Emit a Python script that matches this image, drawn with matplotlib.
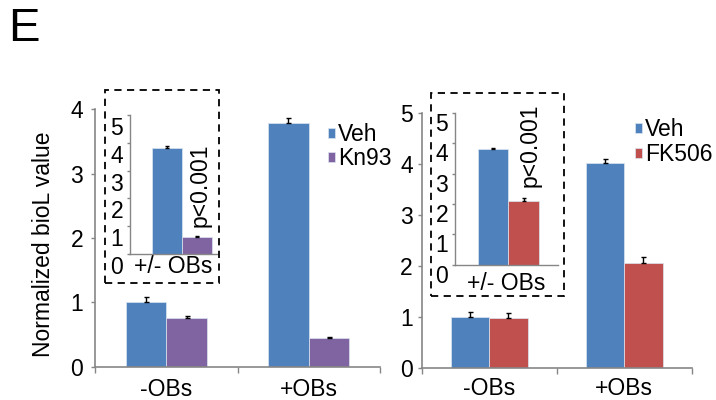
import matplotlib
matplotlib.use("Agg")
from matplotlib import pyplot as plt
from matplotlib.patches import Rectangle
import numpy as np

plt.rcParams['font.family'] = ['Liberation Sans', 'DejaVu Sans']

# main panels
groups = ["-OBs", "+OBs"]
kn_veh = [1.0, 3.79]
kn_veh_err = [0.08, 0.07]
kn93 = [0.75, 0.45]
kn93_err = [0.04, 0.01]

fk_veh = [1.0, 4.03]
fk_veh_err = [0.10, 0.08]
fk506 = [0.98, 2.07]
fk506_err = [0.11, 0.12]

# insets (+/- OBs ratio)
kn_inset = [3.82, 0.62]
kn_inset_err = [0.06, 0.02]
fk_inset = [3.80, 2.09]
fk_inset_err = [0.05, 0.12]

BLUE = "#4F81BD"
PURPLE = "#8064A2"
RED = "#C0504D"
GRAY = "#868686"
W = 0.285
FS = 16.5

fig = plt.figure(figsize=(7.16, 4.0), dpi=100)


def style(ax, ymax, ticklen, pad):
    for s in ["top", "right"]:
        ax.spines[s].set_visible(False)
    for s in ["left", "bottom"]:
        ax.spines[s].set_color(GRAY)
        ax.spines[s].set_linewidth(1.2)
    ax.set_ylim(0, ymax)
    ax.set_yticks(range(0, ymax + 1))
    ax.tick_params(axis="y", colors=GRAY, labelcolor="black", labelsize=FS,
                   length=ticklen, width=1.0, pad=pad)


def bars(ax, a, aerr, b, berr, cb):
    x = np.arange(len(a))
    kw = dict(width=W, edgecolor="#DCE6F2", linewidth=0.5,
              error_kw=dict(ecolor="black", elinewidth=1.0, capsize=1.8, capthick=1.0))
    h1 = ax.bar(x - W / 2, a, color=BLUE, yerr=[np.zeros(len(a)), aerr], **kw)
    h2 = ax.bar(x + W / 2, b, color=cb, yerr=[np.zeros(len(b)), berr], **kw)
    return h1, h2


def cat_axis(ax, pad):
    ax.set_xlim(-0.5, 1.5)
    ax.set_xticks([-0.5, 0.5, 1.5], minor=False)
    ax.set_xticks([0, 1], minor=True)
    ax.set_xticklabels([])
    ax.set_xticklabels(groups, minor=True, fontsize=FS)
    ax.tick_params(axis="x", which="major", colors=GRAY, length=4, width=1.0)
    ax.tick_params(axis="x", which="minor", length=0, pad=pad)


# ---- left panel (Kn93)
ax1 = fig.add_axes([95 / 716, 33.3 / 400, 285 / 716, 257.4 / 400])
style(ax1, 4, 3, 5.5)
h1, h2 = bars(ax1, kn_veh, kn_veh_err, kn93, kn93_err, PURPLE)
cat_axis(ax1, 8)
ax1.set_ylabel("Normalized bioL value", fontsize=FS)
ax1.yaxis.set_label_coords(-0.14, 0.475)
ax1.legend([h1, h2], ["Veh", "Kn93"], loc="upper left",
           bbox_to_anchor=(328 / 716, 1 - 123 / 400), bbox_transform=fig.transFigure,
           frameon=False, fontsize=FS, handlelength=0.3, handleheight=0.3,
           handletextpad=0.13, labelspacing=0.04, borderpad=0, borderaxespad=0)

# ---- right panel (FK506)
ax2 = fig.add_axes([421.7 / 716, 31.7 / 400, 270 / 716, 255 / 400])
style(ax2, 5, 3, 3.5)
g1, g2 = bars(ax2, fk_veh, fk_veh_err, fk506, fk506_err, RED)
cat_axis(ax2, 6)
ax2.legend([g1, g2], ["Veh", "FK506"], loc="upper left",
           bbox_to_anchor=(635 / 716, 1 - 118 / 400), bbox_transform=fig.transFigure,
           frameon=False, fontsize=FS, handlelength=0.3, handleheight=0.3,
           handletextpad=0.13, labelspacing=0.08, borderpad=0, borderaxespad=0)


# ---- insets
def inset(rect, box, vals, errs, cb, xmax, shift, xpad):
    fig.patches.append(Rectangle((box[0], box[1]), box[2], box[3], transform=fig.transFigure,
                                 fill=False, edgecolor="black", linestyle=(0, (4, 3)),
                                 linewidth=1.3, zorder=5))
    ax = fig.add_axes(rect)
    ax.patch.set_visible(False)
    style(ax, 5, 2, 3)
    ax.spines["left"].set_linewidth(1.0)
    ax.spines["bottom"].set_linewidth(1.0)
    ax.set_yticklabels([])
    kw = dict(width=W, edgecolor="#DCE6F2", linewidth=0.5,
              error_kw=dict(ecolor="black", elinewidth=1.0, capsize=1.5, capthick=1.0))
    ax.bar([-W / 2], [vals[0]], color=BLUE, yerr=[[0], [errs[0]]], **kw)
    ax.bar([W / 2], [vals[1]], color=cb, yerr=[[0], [errs[1]]], **kw)
    ax.set_xlim(-0.5, xmax)
    ax.set_xticks([])
    ax.set_xlabel("+/- OBs", fontsize=FS, labelpad=xpad)
    # tick labels sit a little below their ticks in the original figure
    lab = fig.add_axes([rect[0], rect[1] - shift / 400, rect[2], rect[3]])
    lab.patch.set_visible(False)
    for s in lab.spines.values():
        s.set_visible(False)
    lab.set_ylim(0, 5)
    lab.set_yticks(range(0, 6))
    lab.set_xticks([])
    lab.tick_params(axis="y", length=0, pad=5, labelsize=FS)
    return ax


inset([130 / 716, 146 / 400, 87 / 716, 139 / 400],
      [105 / 716, 117 / 400, 114 / 716, 193 / 400],
      kn_inset, kn_inset_err, PURPLE, 0.337, 11, 0.5)
inset([455 / 716, 135.3 / 400, 103 / 716, 151.7 / 400],
      [431 / 716, 103.7 / 400, 133.3 / 716, 203.3 / 400],
      fk_inset, fk_inset_err, RED, 0.465, 9, 5)

fig.text(200 / 716, 1 - 185 / 400, "p<0.001", rotation=90, ha="center", va="center", fontsize=FS)
fig.text(530 / 716, 1 - 145 / 400, "p<0.001", rotation=90, ha="center", va="center", fontsize=FS)

fig.text(8 / 716, 1 - 29 / 400, "E", fontsize=34, ha="left", va="center")

fig.savefig("out.png", dpi=100)
